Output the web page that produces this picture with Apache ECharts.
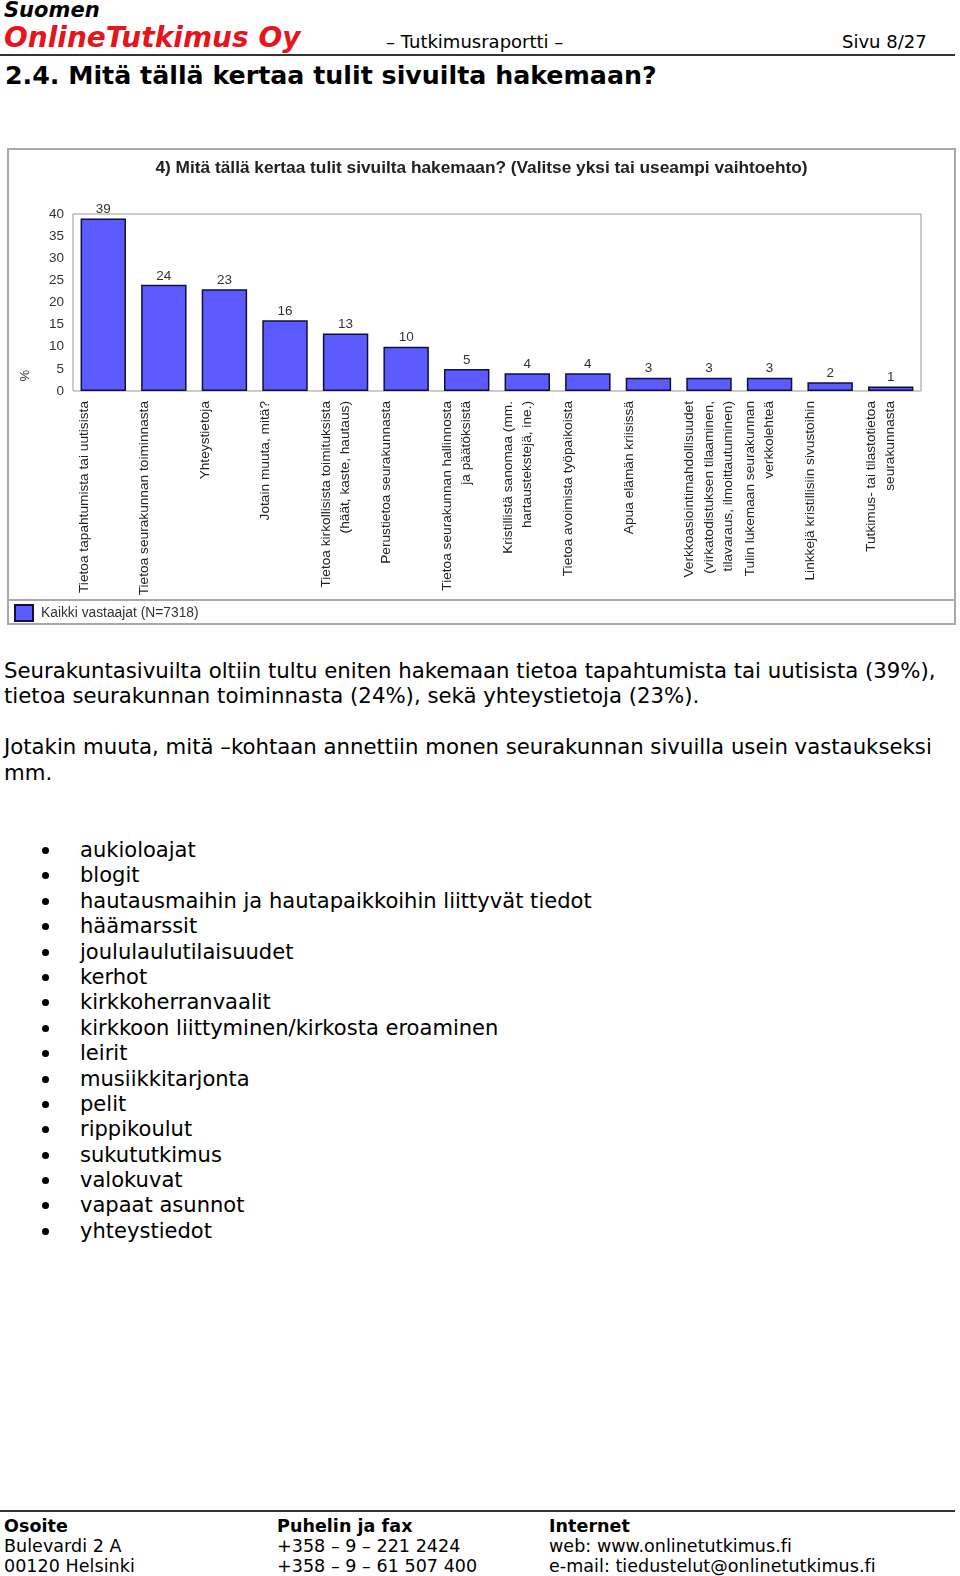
<!DOCTYPE html>
<html>
<head>
<meta charset="utf-8">
<script src="https://cdn.jsdelivr.net/npm/echarts@6/dist/echarts.min.js"></script>
<style>
  html, body { margin: 0; padding: 0; background: #fff; }
  body { width: 960px; height: 1576px; position: relative; overflow: hidden; font-family: "DejaVu Sans", Verdana, sans-serif; color: #000; }
  .t { position: absolute; white-space: nowrap; }
  .rule { position: absolute; left: 0; width: 955px; height: 2px; background: #333; }
  #chart { position: absolute; left: 7px; top: 148px; width: 949px; height: 477px; }
  .p { font-size: 21.25px; line-height: 25px; }
  ul.b { position: absolute; left: 0; top: 837px; margin: 0; padding: 0; list-style: none; font-size: 21.05px; }
  ul.b li { position: relative; height: 25.4px; line-height: 25.4px; padding-left: 80px; white-space: nowrap; }
  ul.b li:before { content: ""; position: absolute; left: 42px; top: 10px; width: 7px; height: 7px; border-radius: 50%; background: #000; }
  .f { font-size: 17.5px; line-height: 20px; letter-spacing: 0.05px; }
</style>
</head>
<body>
<div class="t" style="left:4px;top:-2px;font-size:21px;font-weight:bold;font-style:italic;line-height:24px;">Suomen</div>
<div class="t" style="left:4px;top:21px;font-size:28px;font-weight:bold;font-style:italic;color:#e8141b;line-height:34px;">OnlineTutkimus Oy</div>
<div class="t" style="left:386px;top:30px;font-size:18px;line-height:24px;">– Tutkimusraportti –</div>
<div class="t" style="left:842px;top:30px;font-size:18px;line-height:24px;">Sivu 8/27</div>
<div class="rule" style="top:54px;"></div>
<div class="t" style="left:5px;top:60px;font-size:25.3px;font-weight:bold;line-height:32px;">2.4. Mitä tällä kertaa tulit sivuilta hakemaan?</div>

<div id="chart"></div>

<div class="t p" style="left:4px;top:658px;">Seurakuntasivuilta oltiin tultu eniten hakemaan tietoa tapahtumista tai uutisista (39%),</div>
<div class="t p" style="left:4px;top:683px;">tietoa seurakunnan toiminnasta (24%), sekä yhteystietoja (23%).</div>
<div class="t p" style="left:4px;top:734px;">Jotakin muuta, mitä –kohtaan annettiin monen seurakunnan sivuilla usein vastaukseksi</div>
<div class="t p" style="left:4px;top:760px;">mm.</div>

<ul class="b" id="bullets"></ul>

<div class="rule" style="top:1510px;"></div>
<div class="t f" style="left:4px;top:1516px;font-weight:bold;">Osoite</div>
<div class="t f" style="left:4px;top:1536px;">Bulevardi 2 A</div>
<div class="t f" style="left:4px;top:1556px;">00120 Helsinki</div>
<div class="t f" style="left:277px;top:1516px;font-weight:bold;">Puhelin ja fax</div>
<div class="t f" style="left:277px;top:1536px;">+358 – 9 – 221 2424</div>
<div class="t f" style="left:277px;top:1556px;">+358 – 9 – 61 507 400</div>
<div class="t f" style="left:549px;top:1516px;font-weight:bold;">Internet</div>
<div class="t f" style="left:549px;top:1536px;">web: www.onlinetutkimus.fi</div>
<div class="t f" style="left:549px;top:1556px;">e-mail: tiedustelut@onlinetutkimus.fi</div>

<script>
// ---- data ----
const categories = [
  "Tietoa tapahtumista tai uutisista",
  "Tietoa seurakunnan toiminnasta",
  "Yhteystietoja",
  "Jotain muuta, mitä?",
  "Tietoa kirkollisista toimituksista\n(häät, kaste, hautaus)",
  "Perustietoa seurakunnasta",
  "Tietoa seurakunnan hallinnosta\nja päätöksistä",
  "Kristillistä sanomaa (mm.\nhartaustekstejä, ine.)",
  "Tietoa avoimista työpaikoista",
  "Apua elämän kriisissä",
  "Verkkoasiointimahdollisuudet\n(virkatodistuksen tilaaminen,\ntilavaraus, ilmoittautuminen)",
  "Tulin lukemaan seurakunnan\nverkkolehteä",
  "Linkkejä kristillisiin sivustoihin",
  "Tutkimus- tai tilastotietoa\nseurakunnasta"
];
const values = [39, 24, 23, 16, 13, 10, 5, 4, 4, 3, 3, 3, 2, 1];
const seriesName = "Kaikki vastaajat (N=7318)";
const chartTitle = "4) Mitä tällä kertaa tulit sivuilta hakemaan? (Valitse yksi tai useampi vaihtoehto)";
const yTicks = { min: 0, max: 40, interval: 5 };
const bulletItems = [
  "aukioloajat", "blogit", "hautausmaihin ja hautapaikkoihin liittyvät tiedot", "häämarssit",
  "joululaulutilaisuudet", "kerhot", "kirkkoherranvaalit", "kirkkoon liittyminen/kirkosta eroaminen",
  "leirit", "musiikkitarjonta", "pelit", "rippikoulut", "sukututkimus", "valokuvat",
  "vapaat asunnot", "yhteystiedot"
];

// bullets
const ul = document.getElementById('bullets');
bulletItems.forEach(s => { const li = document.createElement('li'); li.textContent = s; ul.appendChild(li); });

const chart = echarts.init(document.getElementById('chart'), null, { renderer: 'canvas' });
const font = '"Liberation Sans", Arial, sans-serif';
chart.setOption({
  animation: false,
  backgroundColor: '#fff',
  title: {
    text: chartTitle, left: 'center', top: 7,
    textStyle: { fontFamily: font, fontSize: 17.3, fontWeight: 'bold', color: '#222' }
  },
  legend: {
    left: 7, top: 456, padding: 0, itemWidth: 18, itemHeight: 16, itemGap: 10,
    icon: 'rect',
    textStyle: { fontFamily: font, fontSize: 13.8, color: '#333', padding: [0, 0, 0, 3] },
    data: [seriesName]
  },
  grid: { left: 66, top: 66, width: 848, height: 177, show: true, borderColor: '#999', borderWidth: 1, backgroundColor: '#fff' },
  xAxis: {
    type: 'category', data: categories, boundaryGap: true,
    axisLine: { show: false }, axisTick: { show: false },
    axisLabel: {
      interval: 0, rotate: 90, margin: 10, fontFamily: font, fontSize: 13.7, color: '#222',
      lineHeight: 19.5, padding: [8, 0, 0, 0],
      formatter: function (v) {
        const lines = v.split('\n');
        while (lines.length < 3) lines.push(' ');
        return lines.join('\n');
      }
    }
  },
  yAxis: {
    type: 'value', min: yTicks.min, max: yTicks.max, interval: yTicks.interval,
    axisLine: { show: false }, axisTick: { show: false }, splitLine: { show: false },
    axisLabel: { margin: 9, fontFamily: font, fontSize: 13.5, color: '#333' }
  },
  graphic: [
    { type: 'rect', shape: { x: 1, y: 1, width: 947, height: 475 }, style: { fill: 'none', stroke: '#a8a8a8', lineWidth: 2 }, silent: true, z: 100 },
    { type: 'line', shape: { x1: 1, y1: 452, x2: 948, y2: 452 }, style: { stroke: '#a8a8a8', lineWidth: 2 }, silent: true, z: 100 },
    { type: 'text', left: 12, top: 222, rotation: Math.PI / 2, style: { text: '%', font: '13px "Liberation Sans", Arial', fill: '#333' } }
  ],
  series: [{
    name: seriesName, type: 'bar', data: values, barCategoryGap: '25%',
    itemStyle: { color: '#5b5bff', borderColor: '#10103a', borderWidth: 1.5 },
    label: { show: true, position: 'top', distance: 2, fontFamily: font, fontSize: 13.5, color: '#333' }
  }]
});
</script>
</body>
</html>
